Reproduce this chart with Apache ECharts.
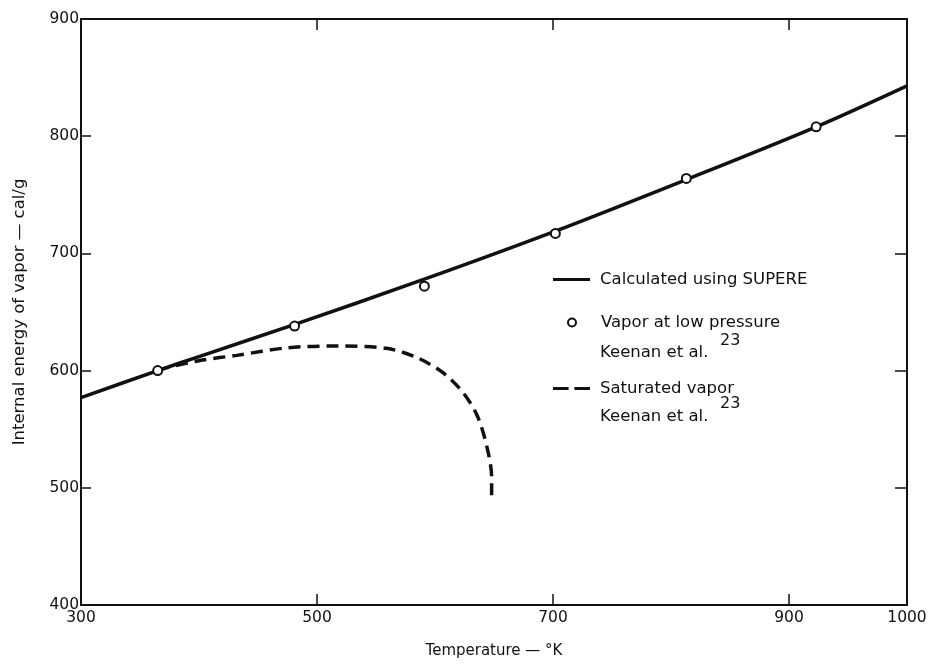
<!DOCTYPE html>
<html>
<head>
<meta charset="utf-8">
<script src="https://cdn.jsdelivr.net/npm/echarts@6/dist/echarts.min.js"></script>
<style>
  html, body { margin: 0; padding: 0; background: #fff; }
  #chart { width: 930px; height: 667px; }
</style>
</head>
<body>
<div id="chart"></div>
<script>
// Calculated using SUPERE (solid line)
var calcT = [300, 365, 400, 480, 591, 702, 813, 923, 1000];
var calcU = [577, 600, 612, 639, 678, 719, 763, 808, 843];

// Vapor at low pressure, Keenan et al. (circles)
var lowT = [365, 481, 591, 702, 813, 923];
var lowU = [600, 638, 672, 717, 764, 808];

// Saturated vapor, Keenan et al. (dashed)
var satT = [365, 375, 403, 432, 475, 517, 559, 585, 607, 624, 636, 644, 648, 648];
var satU = [600, 603, 609, 613, 619.5, 621, 619, 611, 598, 581, 561, 535, 509, 492];

var xLabels = [300, 500, 700, 900, 1000];
var xTicks = [500, 700, 900];
var yTicks = [500, 600, 700, 800];

var font = 'DejaVu Sans';
var ink = '#111';

function pairs(xs, ys) {
  return xs.map(function(x, i) { return [x, ys[i]]; });
}

var chart = echarts.init(document.getElementById('chart'), null, { renderer: 'canvas' });

var lineAxis = { show: true, lineStyle: { color: ink, width: 2 } };
var legendText = { fontSize: 16.5, color: ink, fontFamily: font };

chart.setOption({
  animation: false,
  backgroundColor: '#fff',
  textStyle: { fontFamily: font, color: ink },
  grid: {
    left: 81, right: 23, top: 19, bottom: 62,
    containLabel: false,
    outerBoundsMode: 'none'
  },
  xAxis: [{
    type: 'value',
    min: 300, max: 1000, interval: 100,
    position: 'bottom',
    name: 'Temperature — °K',
    nameLocation: 'middle',
    nameGap: 39,
    nameTextStyle: { fontSize: 15, color: ink, fontFamily: font },
    axisLine: lineAxis,
    axisTick: { show: true, inside: true, length: 11, customValues: xTicks, lineStyle: { color: ink, width: 1.5 } },
    axisLabel: {
      customValues: xLabels, fontSize: 15.5, color: ink, margin: 5, fontFamily: font,
      formatter: function(v) { return String(v); }
    },
    splitLine: { show: false }
  }, {
    type: 'value',
    min: 300, max: 1000, interval: 100,
    position: 'top',
    axisLine: lineAxis,
    axisTick: { show: true, inside: true, length: 11, customValues: xTicks, lineStyle: { color: ink, width: 1.5 } },
    axisLabel: { show: false },
    splitLine: { show: false }
  }],
  yAxis: [{
    type: 'value',
    min: 400, max: 900, interval: 100,
    position: 'left',
    name: 'Internal energy of vapor — cal/g',
    nameLocation: 'middle',
    nameGap: 53,
    nameTextStyle: { fontSize: 16.5, color: ink, fontFamily: font },
    axisLine: lineAxis,
    axisTick: { show: true, inside: true, length: 10, customValues: yTicks, lineStyle: { color: ink, width: 1.5 } },
    axisLabel: {
      fontSize: 15.5, color: ink, margin: 2, fontFamily: font,
      formatter: function(v) { return String(v); }
    },
    splitLine: { show: false }
  }, {
    type: 'value',
    min: 400, max: 900, interval: 100,
    position: 'right',
    axisLine: lineAxis,
    axisTick: { show: true, inside: true, length: 12, customValues: yTicks, lineStyle: { color: ink, width: 1.5 } },
    axisLabel: { show: false },
    splitLine: { show: false }
  }],
  legend: [{
    data: [{ name: 'Calculated using SUPERE', icon: 'path://M0,0h40v3h-40z' }],
    left: 553, top: 271, padding: 0,
    itemWidth: 37, itemHeight: 14,
    textStyle: Object.assign({ padding: [0, 0, 0, 5] }, legendText)
  }, {
    data: [{ name: 'Vapor at low pressure', icon: 'circle' }],
    left: 567, top: 314, padding: 0,
    itemWidth: 8, itemHeight: 8,
    textStyle: Object.assign({ padding: [0, 0, 0, 20] }, legendText)
  }, {
    data: [{ name: 'Saturated vapor', icon: 'path://M0,0h16v3h-16zM22,0h16v3h-16z' }],
    left: 553, top: 380, padding: 0,
    itemWidth: 37, itemHeight: 14,
    textStyle: Object.assign({ padding: [0, 0, 0, 5] }, legendText)
  }],
  graphic: [
    { type: 'text', left: 600, top: 344, style: { text: 'Keenan et al.', font: '16.5px "DejaVu Sans"', fill: ink } },
    { type: 'text', left: 720, top: 333, style: { text: '23', font: '16px "DejaVu Sans"', fill: ink } },
    { type: 'text', left: 600, top: 408, style: { text: 'Keenan et al.', font: '16.5px "DejaVu Sans"', fill: ink } },
    { type: 'text', left: 720, top: 396, style: { text: '23', font: '16px "DejaVu Sans"', fill: ink } }
  ],
  series: [{
    name: 'Calculated using SUPERE',
    type: 'line',
    data: pairs(calcT, calcU),
    showSymbol: false,
    smooth: 0.3,
    lineStyle: { color: ink, width: 3.5 },
    itemStyle: { color: ink },
    z: 2
  }, {
    name: 'Saturated vapor',
    type: 'line',
    data: pairs(satT, satU),
    showSymbol: false,
    smooth: 0.3,
    lineStyle: { color: ink, width: 3.5, type: [12, 7] },
    itemStyle: { color: ink },
    z: 2
  }, {
    name: 'Vapor at low pressure',
    type: 'scatter',
    data: pairs(lowT, lowU),
    symbol: 'circle',
    symbolSize: 9,
    itemStyle: { color: '#fff', borderColor: ink, borderWidth: 2, opacity: 1 },
    z: 3
  }]
});
window.addEventListener('resize', function() { chart.resize(); });
</script>
</body>
</html>
